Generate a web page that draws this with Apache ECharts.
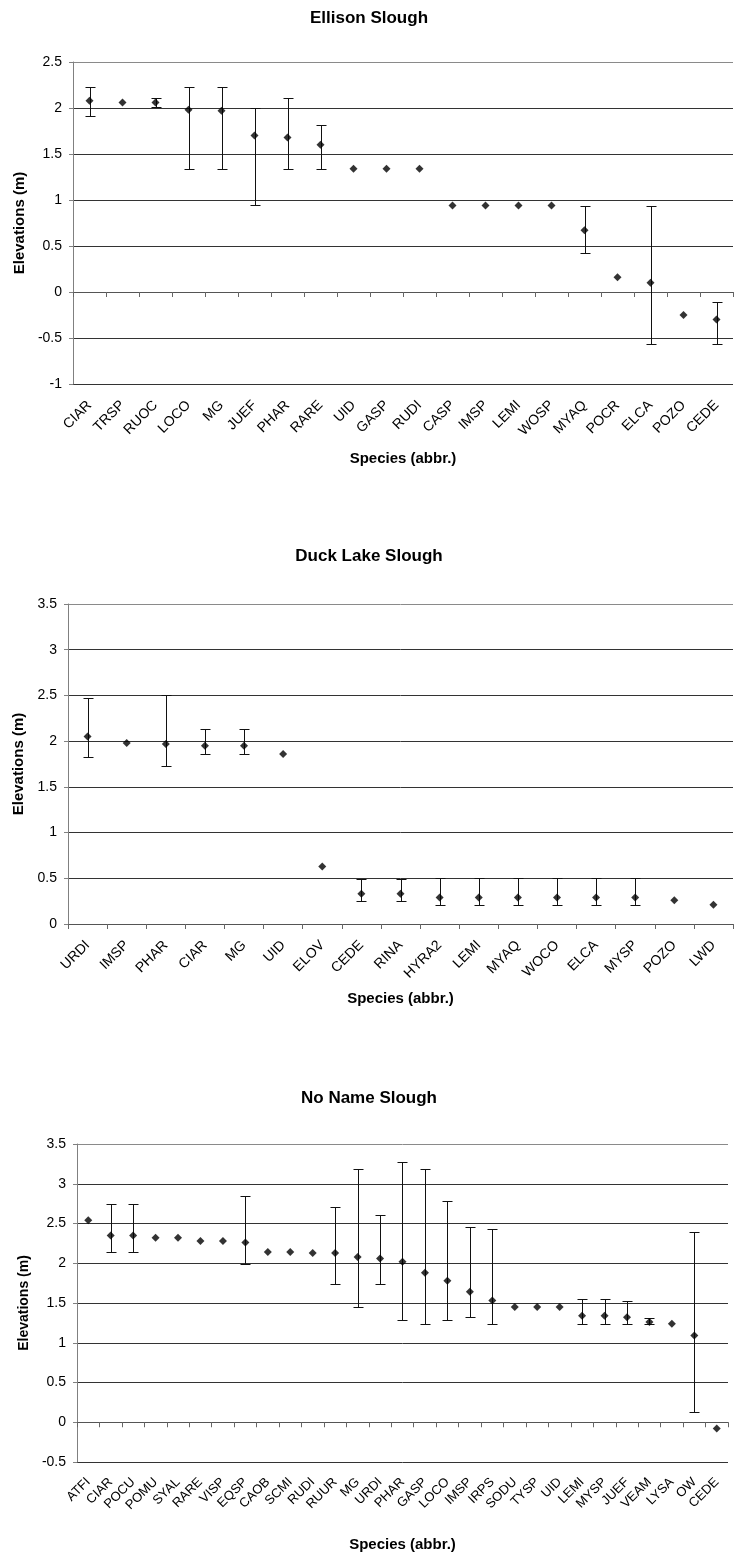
<!DOCTYPE html>
<html>
<head>
<meta charset="utf-8">
<script src="https://cdn.jsdelivr.net/npm/echarts@6/dist/echarts.min.js"></script>
<style>
html,body{margin:0;padding:0;background:#fff;}
#chart{width:738px;height:1553px;}
</style>
</head>
<body>
<div id="chart"></div>
<script>
// ---- Ellison Slough ----
const cats1 = ['CIAR','TRSP','RUOC','LOCO','MG','JUEF','PHAR','RARE','UID','GASP','RUDI','CASP','IMSP','LEMI','WOSP','MYAQ','POCR','ELCA','POZO','CEDE'];
const vals1 = [2.08,2.06,2.06,1.98,1.97,1.70,1.68,1.60,1.34,1.34,1.34,0.94,0.94,0.94,0.94,0.67,0.16,0.10,-0.25,-0.30];
const lo1   = [1.91,null,2.01,1.34,1.34,0.95,1.34,1.34,null,null,null,null,null,null,null,0.42,null,-0.57,null,-0.57];
const hi1   = [2.23,null,2.11,2.23,2.23,2.00,2.11,1.81,null,null,null,null,null,null,null,0.94,null,0.94,null,-0.11];

// ---- Duck Lake Slough ----
const cats2 = ['URDI','IMSP','PHAR','CIAR','MG','UID','ELOV','CEDE','RINA','HYRA2','LEMI','MYAQ','WOCO','ELCA','MYSP','POZO','LWD'];
const vals2 = [2.05,1.98,1.97,1.95,1.95,1.86,0.63,0.33,0.33,0.29,0.29,0.29,0.29,0.29,0.29,0.26,0.21];
const lo2   = [1.83,null,1.73,1.86,1.86,null,null,0.25,0.25,0.21,0.21,0.21,0.21,0.21,0.21,null,null];
const hi2   = [2.47,null,2.50,2.13,2.13,null,null,0.49,0.49,0.50,0.50,0.50,0.50,0.50,0.50,null,null];

// ---- No Name Slough ----
const cats3 = ['ATFI','CIAR','POCU','POMU','SYAL','RARE','VISP','EQSP','CAOB','SCMI','RUDI','RUUR','MG','URDI','PHAR','GASP','LOCO','IMSP','IRPS','SODU','TYSP','UID','LEMI','MYSP','JUEF','VEAM','LYSA','OW','CEDE'];
const vals3 = [2.54,2.35,2.35,2.32,2.32,2.28,2.28,2.26,2.14,2.14,2.13,2.13,2.08,2.06,2.02,1.88,1.78,1.64,1.53,1.45,1.45,1.45,1.34,1.34,1.32,1.26,1.24,1.09,-0.08];
const lo3   = [null,2.14,2.14,null,null,null,null,1.99,null,null,null,1.74,1.45,1.74,1.28,1.24,1.28,1.32,1.24,null,null,null,1.24,1.24,1.24,1.24,null,0.13,null];
const hi3   = [null,2.74,2.74,null,null,null,null,2.84,null,null,null,2.71,3.19,2.61,3.27,3.18,2.78,2.46,2.43,null,null,null,1.55,1.55,1.53,1.31,null,2.39,null];

const titles = ['Ellison Slough','Duck Lake Slough','No Name Slough'];
const xName = 'Species (abbr.)';
const yName = 'Elevations (m)';

const FONT = "'Liberation Sans', Arial, sans-serif";

function errData(lo, hi) {
  const out = [];
  for (let i = 0; i < lo.length; i++) {
    if (lo[i] !== null && hi[i] !== null) out.push([i, lo[i], hi[i]]);
  }
  return out;
}

function renderErr(params, api) {
  const x = api.value(0);
  const p1 = api.coord([x, api.value(1)]);
  const p2 = api.coord([x, api.value(2)]);
  const w = 5;
  const st = {stroke: '#111', lineWidth: 1};
  const cx = Math.round(p1[0]) + 0.5;
  const y1 = Math.round(p1[1]) + 0.5, y2 = Math.round(p2[1]) + 0.5;
  return {
    type: 'group',
    children: [
      {type: 'line', shape: {x1: cx, y1: y1, x2: cx, y2: y2}, style: st},
      {type: 'line', shape: {x1: cx - w, y1: y1, x2: cx + w, y2: y1}, style: st},
      {type: 'line', shape: {x1: cx - w, y1: y2, x2: cx + w, y2: y2}, style: st}
    ]
  };
}

const grids = [
  {left: 73, right: 5, top: 62, height: 322},
  {left: 68, right: 5, top: 604, height: 320},
  {left: 77, right: 10, top: 1144, height: 318}
];
const yRanges = [[-1, 2.5], [0, 3.5], [-0.5, 3.5]];
const yNameGaps = [42, 35, 41];
const yNameSizes = [15, 15, 14];
const xNameGaps = [67, 67, 75];
const xLabelSizes = [14, 14, 13];
const xLabelMargins = [19, 19, 18];
const titleTops = [5, 543, 1085];
const catsAll = [cats1, cats2, cats3];
const valsAll = [vals1, vals2, vals3];
const loAll = [lo1, lo2, lo3];
const hiAll = [hi1, hi2, hi3];

function gridColors(r) {
  const n = Math.round((r[1] - r[0]) / 0.5) + 1;
  const c = [];
  for (let k = 0; k < n; k++) c.push(k === n - 1 ? '#8a8a8a' : '#333');
  return c;
}

const option = {
  backgroundColor: '#fff',
  animation: false,
  title: titles.map((t, i) => ({
    text: t, left: 'center', top: titleTops[i],
    textStyle: {fontFamily: FONT, fontSize: 17, fontWeight: 'bold', color: '#000'}
  })),
  grid: grids.map(g => Object.assign({containLabel: false}, g)),
  xAxis: catsAll.map((c, i) => ({
    type: 'category', gridIndex: i, data: c, boundaryGap: true,
    name: xName, nameLocation: 'middle', nameGap: xNameGaps[i],
    nameTextStyle: {fontFamily: FONT, fontSize: 15, fontWeight: 'bold', color: '#000'},
    axisLine: {lineStyle: {color: '#555', width: 1}},
    axisTick: {show: true, alignWithLabel: false, interval: 0, length: 5, lineStyle: {color: '#666'}},
    axisLabel: {interval: 0, rotate: 45, margin: xLabelMargins[i], fontFamily: FONT, fontSize: xLabelSizes[i], color: '#000'},
    splitLine: {show: false}
  })),
  yAxis: yRanges.map((r, i) => ({
    type: 'value', gridIndex: i, min: r[0], max: r[1], interval: 0.5,
    name: yName, nameLocation: 'middle', nameGap: yNameGaps[i],
    nameTextStyle: {fontFamily: FONT, fontSize: yNameSizes[i], fontWeight: 'bold', color: '#000'},
    axisLine: {show: true, lineStyle: {color: '#808080', width: 1}},
    axisTick: {show: true, length: 4, lineStyle: {color: '#808080'}},
    axisLabel: {margin: 11, fontFamily: FONT, fontSize: 14, color: '#000'},
    splitLine: {show: true, lineStyle: {color: gridColors(r), width: 1}}
  })),
  series: []
};

for (let i = 0; i < 3; i++) {
  option.series.push({
    type: 'custom', xAxisIndex: i, yAxisIndex: i,
    renderItem: renderErr, data: errData(loAll[i], hiAll[i]),
    encode: {x: 0, y: [1, 2]}, z: 2, silent: true
  });
  option.series.push({
    type: 'scatter', xAxisIndex: i, yAxisIndex: i,
    data: valsAll[i], symbol: 'diamond', symbolSize: 8,
    itemStyle: {color: '#000'}, z: 3
  });
}

const chart = echarts.init(document.getElementById('chart'), null, {renderer: 'canvas'});
chart.setOption(option);
</script>
</body>
</html>
